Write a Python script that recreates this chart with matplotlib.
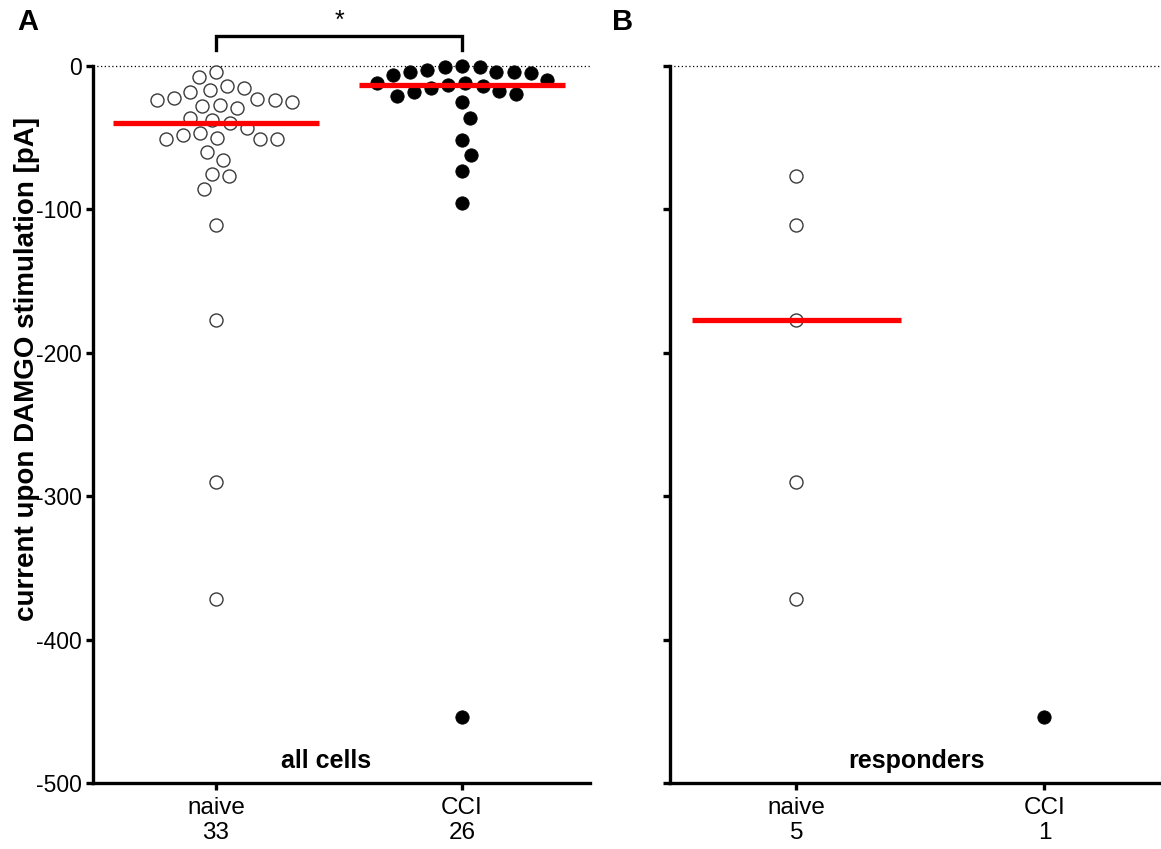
import numpy as np
import matplotlib
matplotlib.use('Agg')
import matplotlib.pyplot as plt

plt.rcParams['font.family'] = ['Liberation Sans', 'DejaVu Sans']
plt.rcParams['axes.unicode_minus'] = False

# data (pA)
categories = ['naive', 'CCI']
naive_all = [-4.4, -7.4, -14, -15, -17, -18, -22, -23, -24, -24, -25, -27,
             -28, -29, -36.5, -38, -40, -43, -47, -48, -50, -51, -51, -51,
             -60, -65.5, -75, -77, -86, -111, -177, -290, -372]
cci_all = [0, -1, -1, -3, -4, -4, -4, -5, -6, -10, -12, -12, -13, -14,
           -15.3, -17.7, -18.3, -19.5, -21, -25, -36, -51.6, -62, -73,
           -95.3, -454]
naive_resp = [-77, -111, -177, -290, -372]
cci_resp = [-454]
n_all = [len(naive_all), len(cci_all)]
n_resp = [len(naive_resp), len(cci_resp)]

W, H = 1161, 849


def swarm_offsets(ax, xc, values, d):
    """Greedy beeswarm in pixel space; returns x positions in data units."""
    fig = ax.figure
    fig.canvas.draw()
    tr = ax.transData
    px_per_unit = tr.transform((1, 0))[0] - tr.transform((0, 0))[0]
    ys = np.array([tr.transform((xc, v))[1] for v in values])
    order = np.argsort(-np.asarray(values), kind='stable')
    placed = []
    xs = np.zeros(len(values))
    for k, i in enumerate(order):
        y = ys[i]
        cands = [0.0]
        near = [(px, py) for px, py in placed if abs(py - y) < d]
        for px, py in near:
            dx = np.sqrt(d * d - (py - y) ** 2)
            cands += [px - dx, px + dx]
        best = 0.0
        for c in sorted(cands, key=lambda c: (round(abs(c), 3), c if k % 2 else -c)):
            if all((c - px) ** 2 + (y - py) ** 2 >= d * d - 1e-6 for px, py in near):
                best = c
                break
        placed.append((best, y))
        xs[i] = best
    return xc + xs / px_per_unit


def style_axes(ax, xlim, show_labels, ticklabels):
    ax.set_xlim(*xlim)
    ax.set_ylim(-500, 0)
    for side in ['top', 'right']:
        ax.spines[side].set_visible(False)
    for side in ['left', 'bottom']:
        ax.spines[side].set_linewidth(2.4)
    ax.set_yticks([0, -100, -200, -300, -400, -500])
    ax.set_xticks([0, 1])
    ax.set_xticklabels(ticklabels, fontsize=17.5, linespacing=1.2)
    ax.tick_params(axis='both', width=2.4, length=5, labelsize=16.5, pad=3)
    ax.tick_params(axis='x', pad=5, labelsize=17.5)
    if not show_labels:
        ax.set_yticklabels([])
    ax.axhline(0, color='black', lw=0.9, ls=(0, (1, 2)), clip_on=False, zorder=1)


def draw_group(ax, xc, values, filled, median=True):
    xs = swarm_offsets(ax, xc, values, 17.5)
    if filled:
        ax.scatter(xs, values, s=92, c='black', edgecolors='black',
                   linewidths=0.6, zorder=3, clip_on=False)
    else:
        ax.scatter(xs, values, s=88, facecolors='white', edgecolors='#3a3a3a',
                   linewidths=1.0, zorder=3, clip_on=False)
    if median and len(values) > 1:
        m = np.median(values)
        ax.plot([xc - 0.42, xc + 0.42], [m, m], color='#ff0000', lw=3.8,
                zorder=4, solid_capstyle='butt')


fig = plt.figure(figsize=(W / 100, H / 100), dpi=100)
ax1 = fig.add_axes([93 / W, 66 / H, 497 / W, 717 / H])
ax2 = fig.add_axes([670 / W, 66 / H, 491 / W, 717 / H])

style_axes(ax1, (-0.5, 1.52), True,
           [f'{c}\n{n}' for c, n in zip(categories, n_all)])
style_axes(ax2, (-0.51, 1.47), False,
           [f'{c}\n{n}' for c, n in zip(categories, n_resp)])

draw_group(ax1, 0, naive_all, False)
draw_group(ax1, 1, cci_all, True)
draw_group(ax2, 0, naive_resp, False)
draw_group(ax2, 1, cci_resp, True, median=False)

# significance bracket between naive and CCI
ax1.plot([0, 0, 1, 1], [11, 21, 21, 11], color='black', lw=2.4,
         clip_on=False, solid_joinstyle='miter')
ax1.text(0.5, 23, '*', ha='center', va='bottom', fontsize=18)

ax1.text(0.469, 0.03, 'all cells', transform=ax1.transAxes, ha='center',
         va='center', fontsize=18, fontweight='bold')
ax2.text(0.503, 0.03, 'responders', transform=ax2.transAxes, ha='center',
         va='center', fontsize=18, fontweight='bold')

fig.text(27 / W, 1 - 369 / H, 'current upon DAMGO stimulation [pA]',
         rotation=90, ha='center', va='center', fontsize=20, fontweight='bold')
fig.text(28 / W, 1 - 22 / H, 'A', ha='center', va='center', fontsize=21,
         fontweight='bold')
fig.text(623 / W, 1 - 22 / H, 'B', ha='center', va='center', fontsize=21,
         fontweight='bold')

fig.savefig('out.png', dpi=100)
